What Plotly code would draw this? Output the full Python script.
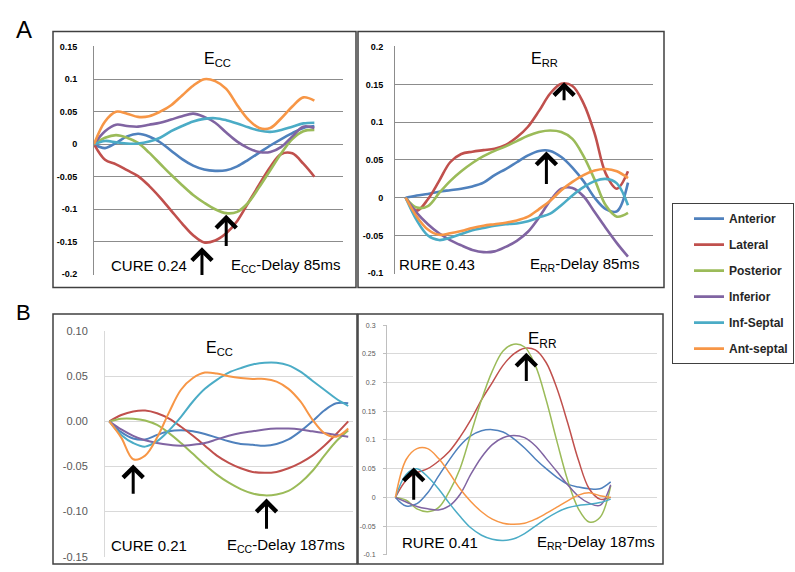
import plotly.graph_objects as go

W, H = 795, 572

frames = [0, 1, 2, 3, 4, 5, 6, 7, 8, 9, 10, 11, 12, 13, 14, 15, 16, 17, 18, 19, 20]
segment_names = ["Anterior", "Lateral", "Posterior", "Inferior", "Inf-Septal", "Ant-septal"]
segment_colors = ["#4F81BD", "#C0504D", "#9BBB59", "#8064A2", "#4BACC6", "#F79646"]

# ---- Panel A, Ecc ----
a_ecc_anterior = [0, -0.006, 0.002, 0.012, 0.016, 0.012, 0.003, -0.01, -0.023, -0.033, -0.039, -0.041, -0.04, -0.034, -0.024, -0.013, -0.002, 0.008, 0.017, 0.025, 0.028]
a_ecc_lateral = [0, -0.024, -0.031, -0.04, -0.049, -0.064, -0.082, -0.102, -0.122, -0.14, -0.151, -0.148, -0.137, -0.118, -0.09, -0.062, -0.035, -0.015, -0.014, -0.03, -0.05]
a_ecc_posterior = [0, 0.01, 0.014, 0.01, 0.002, -0.013, -0.03, -0.047, -0.063, -0.078, -0.09, -0.1, -0.106, -0.104, -0.09, -0.066, -0.04, -0.014, 0.008, 0.02, 0.022]
a_ecc_inferior = [0, 0.02, 0.03, 0.028, 0.027, 0.03, 0.033, 0.038, 0.043, 0.047, 0.042, 0.033, 0.018, 0.004, -0.006, -0.012, -0.012, -0.004, 0.012, 0.027, 0.025]
a_ecc_infseptal = [0, 0.005, 0.003, 0.001, 0.001, 0.004, 0.01, 0.02, 0.028, 0.035, 0.039, 0.04, 0.037, 0.032, 0.026, 0.021, 0.019, 0.022, 0.027, 0.032, 0.033]
a_ecc_antseptal = [0, 0.035, 0.05, 0.047, 0.042, 0.043, 0.05, 0.06, 0.075, 0.09, 0.1, 0.097, 0.085, 0.06, 0.038, 0.025, 0.025, 0.04, 0.058, 0.072, 0.067]

# ---- Panel A, Err ----
a_err_anterior = [0, 0.003, 0.005, 0.008, 0.01, 0.012, 0.015, 0.02, 0.03, 0.038, 0.047, 0.056, 0.062, 0.062, 0.054, 0.04, 0.022, 0.0, -0.015, -0.018, 0.02]
a_err_lateral = [0, -0.017, -0.002, 0.022, 0.047, 0.058, 0.061, 0.063, 0.065, 0.07, 0.08, 0.094, 0.115, 0.138, 0.151, 0.148, 0.125, 0.085, 0.032, 0.012, 0.035]
a_err_posterior = [0, -0.013, -0.011, 0.006, 0.022, 0.035, 0.046, 0.055, 0.062, 0.068, 0.075, 0.082, 0.087, 0.089, 0.087, 0.078, 0.055, 0.024, -0.01, -0.025, -0.02]
a_err_inferior = [0, -0.02, -0.035, -0.047, -0.056, -0.063, -0.069, -0.072, -0.071, -0.065, -0.057, -0.045, -0.026, -0.004, 0.012, 0.013, 0.002, -0.019, -0.04, -0.06, -0.078]
a_err_infseptal = [0, -0.03, -0.05, -0.056, -0.053, -0.048, -0.043, -0.04, -0.037, -0.035, -0.034, -0.031, -0.026, -0.021, -0.01, 0.003, 0.014, 0.022, 0.025, 0.019, -0.01]
a_err_antseptal = [0, -0.025, -0.042, -0.049, -0.047, -0.044, -0.04, -0.037, -0.035, -0.033, -0.03, -0.025, -0.015, -0.004, 0.01, 0.021, 0.03, 0.036, 0.038, 0.035, 0.026]

# ---- Panel B, Ecc ----
b_ecc_anterior = [0, -0.012, -0.019, -0.02, -0.015, -0.011, -0.01, -0.011, -0.014, -0.018, -0.022, -0.025, -0.026, -0.027, -0.025, -0.02, -0.011, 0.0, 0.012, 0.02, 0.02]
b_ecc_lateral = [0, 0.007, 0.011, 0.012, 0.009, 0.003, -0.006, -0.016, -0.027, -0.038, -0.046, -0.052, -0.056, -0.057, -0.056, -0.052, -0.046, -0.038, -0.027, -0.014, 0.0]
b_ecc_posterior = [0, 0.003, 0.003, 0.001, -0.004, -0.013, -0.024, -0.036, -0.048, -0.059, -0.068, -0.075, -0.08, -0.082, -0.081, -0.077, -0.068, -0.055, -0.038, -0.022, -0.01]
b_ecc_inferior = [0, -0.009, -0.016, -0.021, -0.024, -0.026, -0.027, -0.026, -0.024, -0.02, -0.016, -0.013, -0.011, -0.009, -0.008, -0.008, -0.009, -0.011, -0.013, -0.015, -0.017]
b_ecc_infseptal = [0, -0.015, -0.024, -0.028, -0.022, -0.01, 0.005, 0.022, 0.036, 0.046, 0.054, 0.059, 0.063, 0.065, 0.065, 0.062, 0.055, 0.045, 0.035, 0.025, 0.017]
b_ecc_antseptal = [0, -0.018, -0.042, -0.038, -0.018, 0.01, 0.035, 0.048, 0.054, 0.053, 0.05, 0.048, 0.047, 0.047, 0.044, 0.036, 0.022, 0.002, -0.013, -0.017, -0.008]

# ---- Panel B, Err ----
b_err_anterior = [0, -0.015, -0.011, 0.008, 0.037, 0.065, 0.09, 0.107, 0.116, 0.118, 0.114, 0.102, 0.086, 0.067, 0.05, 0.035, 0.023, 0.018, 0.015, 0.015, 0.027]
b_err_lateral = [0, 0.03, 0.043, 0.05, 0.063, 0.08, 0.105, 0.135, 0.17, 0.2, 0.23, 0.25, 0.26, 0.257, 0.235, 0.19, 0.13, 0.065, 0.015, -0.003, 0.0]
b_err_posterior = [0, -0.005, -0.02, -0.025, -0.018, 0.01, 0.05, 0.11, 0.17, 0.22, 0.255, 0.267, 0.262, 0.23, 0.17, 0.098, 0.03, -0.02, -0.043, -0.035, 0.02]
b_err_inferior = [0, -0.008, -0.016, -0.02, -0.022, -0.015, 0.005, 0.04, 0.07, 0.092, 0.104, 0.108, 0.104, 0.09, 0.068, 0.045, 0.022, 0.002, -0.01, -0.014, 0.022]
b_err_infseptal = [0, 0.04, 0.05, 0.036, 0.015, -0.01, -0.033, -0.053, -0.066, -0.073, -0.075, -0.072, -0.063, -0.05, -0.037, -0.026, -0.018, -0.014, -0.012, -0.009, -0.003]
b_err_antseptal = [0, 0.066, 0.085, 0.085, 0.068, 0.043, 0.015, -0.007, -0.025, -0.038, -0.045, -0.047, -0.045, -0.038, -0.028, -0.017, -0.006, 0.004, 0.008, 0.003, 0.0]

# tick values / labels
a_ecc_ticks = [0.15, 0.1, 0.05, 0, -0.05, -0.1, -0.15, -0.2]
a_ecc_ticktext = ["0.15", "0.1", "0.05", "0", "-0.05", "-0.1", "-0.15", "-0.2"]
a_err_ticks = [0.2, 0.15, 0.1, 0.05, 0, -0.05, -0.1]
a_err_ticktext = ["0.2", "0.15", "0.1", "0.05", "0", "-0.05", "-0.1"]
b_ecc_ticks = [0.10, 0.05, 0.0, -0.05, -0.10, -0.15]
b_ecc_ticktext = ["0.10", "0.05", "0.00", "-0.05", "-0.10", "-0.15"]
b_err_ticks = [0.3, 0.25, 0.2, 0.15, 0.1, 0.05, 0, -0.05, -0.1]
b_err_ticktext = ["0.3", "0.25", "0.2", "0.15", "0.1", "0.05", "0", "-0.05", "-0.1"]

# texts
a_ecc_texts = ["E<sub>CC</sub>", "CURE 0.24", "E<sub>CC</sub>-Delay 85ms"]
a_err_texts = ["E<sub>RR</sub>", "RURE 0.43", "E<sub>RR</sub>-Delay 85ms"]
b_ecc_texts = ["E<sub>CC</sub>", "CURE 0.21", "E<sub>CC</sub>-Delay 187ms"]
b_err_texts = ["E<sub>RR</sub>", "RURE 0.41", "E<sub>RR</sub>-Delay 187ms"]

# arrows (frame, tail value, head value)
a_ecc_arrows = [(9.8, -0.2035, -0.1585), (12.0, -0.159, -0.1085)]
a_err_arrows = [(14.25, 0.127, 0.153), (12.66, 0.0163, 0.0613)]
b_ecc_arrows = [(2.0, -0.082, -0.0477), (13.16, -0.1206, -0.0856)]
b_err_arrows = [(1.7, -0.0068, 0.052), (12.16, 0.2, 0.252)]

panels = [
    dict(series=[a_ecc_anterior, a_ecc_lateral, a_ecc_posterior, a_ecc_inferior, a_ecc_infseptal, a_ecc_antseptal],
         ticks=a_ecc_ticks, ticktext=a_ecc_ticktext, texts=a_ecc_texts, arrows=a_ecc_arrows),
    dict(series=[a_err_anterior, a_err_lateral, a_err_posterior, a_err_inferior, a_err_infseptal, a_err_antseptal],
         ticks=a_err_ticks, ticktext=a_err_ticktext, texts=a_err_texts, arrows=a_err_arrows),
    dict(series=[b_ecc_anterior, b_ecc_lateral, b_ecc_posterior, b_ecc_inferior, b_ecc_infseptal, b_ecc_antseptal],
         ticks=b_ecc_ticks, ticktext=b_ecc_ticktext, texts=b_ecc_texts, arrows=b_ecc_arrows),
    dict(series=[b_err_anterior, b_err_lateral, b_err_posterior, b_err_inferior, b_err_infseptal, b_err_antseptal],
         ticks=b_err_ticks, ticktext=b_err_ticktext, texts=b_err_texts, arrows=b_err_arrows),
]

# layout / style per panel (pixel boxes of plot areas, x ranges, text placement)
styles = [
    dict(px=(94, 343, 41, 274), xr=[0, 22.6], lw=2.6, grid="#8c8c8c", line="#8c8c8c",
         tfont=dict(family="Liberation Sans", size=9, color="#000000", weight="bold"), standoff=14, ticks="",
         title_pos=(11.2, 0.1305), low_left=(5.03, -0.186), low_right=(22.55, -0.186)),
    dict(px=(395, 653, 41, 273), xr=[-0.96, 22.25], lw=2.6, grid="#8c8c8c", line="#8c8c8c",
         tfont=dict(family="Liberation Sans", size=9, color="#000000", weight="bold"), standoff=9, ticks="",
         title_pos=(12.5, 0.183), low_left=(2.85, -0.0887), low_right=(21.2, -0.0887)),
    dict(px=(105, 353, 331, 562), xr=[-0.36, 20.4], lw=2.0, grid="#d9d9d9", line="#d9d9d9",
         tfont=dict(family="Liberation Sans", size=11, color="#595959"), standoff=14, ticks="",
         title_pos=(9.2, 0.0805), low_left=(3.33, -0.138), low_right=(19.86, -0.138)),
    dict(px=(387, 657, 325, 560), xr=[-0.78, 24.3], lw=1.5, grid="#d9d9d9", line="#bfbfbf",
         tfont=dict(family="Liberation Sans", size=7, color="#595959"), standoff=6, ticks="outside",
         title_pos=(13.7, 0.2746), low_left=(4.1, -0.0793), low_right=(24.3, -0.0793)),
]

fig = go.Figure()
annotations = []
layout = {}

for k, (p, s) in enumerate(zip(panels, styles)):
    n = "" if k == 0 else str(k + 1)
    xref, yref = "x" + n, "y" + n
    x0, x1, y0, y1 = s["px"]
    for name, color, vals in zip(segment_names, segment_colors, p["series"]):
        fig.add_trace(go.Scatter(
            x=frames, y=vals, mode="lines", name=name,
            line=dict(color=color, width=s["lw"], shape="spline", smoothing=1.0),
            xaxis=xref, yaxis=yref, showlegend=(k == 0), legendgroup=name,
            hoverinfo="skip"))
    ymin, ymax = min(p["ticks"]), max(p["ticks"])
    pad = (ymax - ymin) * 0.002
    layout["xaxis" + n] = dict(domain=[x0 / W, x1 / W], range=s["xr"], visible=False,
                               anchor=yref, fixedrange=True)
    layout["yaxis" + n] = dict(domain=[1 - y1 / H, 1 - y0 / H], range=[ymin - pad, ymax + pad],
                               anchor=xref, tickvals=p["ticks"], ticktext=p["ticktext"],
                               showgrid=True, gridcolor=s["grid"], gridwidth=1,
                               showline=True, linecolor=s["line"], linewidth=1,
                               zeroline=False, tickfont=s["tfont"],
                               ticks=s["ticks"], ticklen=3, tickcolor=s["line"],
                               ticklabelstandoff=s["standoff"], fixedrange=True)
    tx, ty = s["title_pos"]
    title_size = 17 if k == 3 else 16
    annotations.append(dict(x=tx, y=ty, xref=xref, yref=yref, text=p["texts"][0], showarrow=False,
                            xanchor="center", yanchor="middle",
                            font=dict(family="Liberation Sans", size=title_size, color="#000000")))
    lx, ly = s["low_left"]
    annotations.append(dict(x=lx, y=ly, xref=xref, yref=yref, text=p["texts"][1], showarrow=False,
                            xanchor="center", yanchor="middle",
                            font=dict(family="Liberation Sans", size=15, color="#000000")))
    rx, ry = s["low_right"]
    annotations.append(dict(x=rx, y=ry, xref=xref, yref=yref, text=p["texts"][2], showarrow=False,
                            xanchor="right", yanchor="middle",
                            font=dict(family="Liberation Sans", size=15, color="#000000")))
    for (ax_, tail, head) in p["arrows"]:
        annotations.append(dict(x=ax_, y=head, ax=ax_, ay=tail, xref=xref, yref=yref,
                                axref=xref, ayref=yref, text="", showarrow=True,
                                arrowhead=4, arrowsize=1.3, arrowwidth=3, arrowcolor="#000000"))

# panel letters
annotations.append(dict(x=14 / W, y=1 - 8 / H, xref="paper", yref="paper", text="A", showarrow=False,
                        xanchor="left", yanchor="top", font=dict(family="Liberation Sans", size=24, color="#000")))
annotations.append(dict(x=14 / W, y=1 - 298 / H, xref="paper", yref="paper", text="B", showarrow=False,
                        xanchor="left", yanchor="top", font=dict(family="Liberation Sans", size=22, color="#000")))

# frames around each panel
boxes = [(53, 356, 26, 287), (358, 664, 26, 287), (53, 357, 314, 569), (358, 663, 314, 569)]
shapes = []
for (bx0, bx1, by0, by1) in boxes:
    shapes.append(dict(type="rect", xref="paper", yref="paper",
                       x0=bx0 / W, x1=bx1 / W, y0=1 - by1 / H, y1=1 - by0 / H,
                       line=dict(color="#404040", width=1.5), fillcolor="rgba(0,0,0,0)"))

fig.update_layout(
    width=W, height=H, margin=dict(l=0, r=0, t=0, b=0),
    paper_bgcolor="white", plot_bgcolor="white",
    annotations=annotations, shapes=shapes,
    legend=dict(x=672 / W, y=1 - 201 / H, xanchor="left", yanchor="top",
                bordercolor="#404040", borderwidth=1, bgcolor="white",
                font=dict(family="Liberation Sans", size=12, color="#262626", weight="bold"),
                itemwidth=30, tracegroupgap=7, indentation=16),
    **layout,
)

fig.write_html("out.html", config={"displayModeBar": False},
               post_script="document.body.style.margin='0';")
